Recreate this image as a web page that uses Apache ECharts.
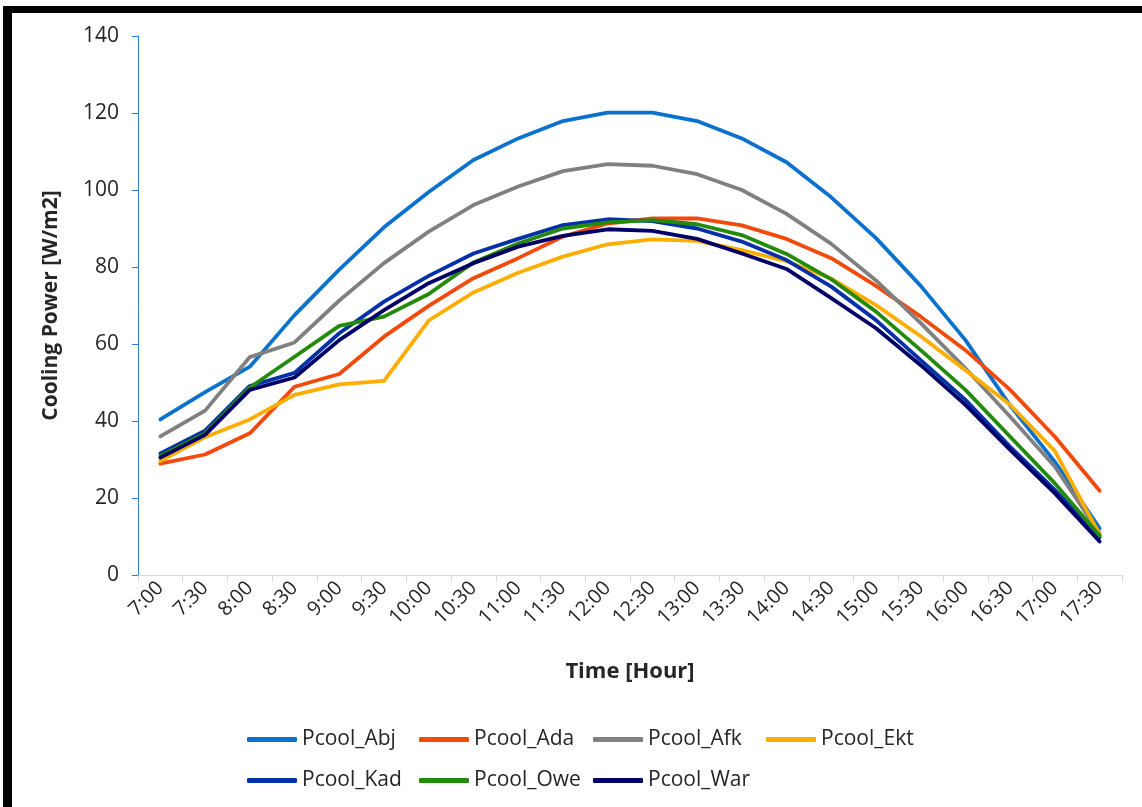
<!DOCTYPE html>
<html>
<head>
<meta charset="utf-8">
<title>Cooling Power</title>
<script src="https://cdn.jsdelivr.net/npm/echarts@6/dist/echarts.min.js"></script>
<style>
  html, body { margin: 0; padding: 0; background: #ffffff; }
  #chart { width: 1142px; height: 807px; }
</style>
</head>
<body>
<div id="chart"></div>
<script>
// Half-hourly time steps
const times = ['7:00', '7:30', '8:00', '8:30', '9:00', '9:30', '10:00', '10:30', '11:00', '11:30',
  '12:00', '12:30', '13:00', '13:30', '14:00', '14:30', '15:00', '15:30', '16:00', '16:30', '17:00', '17:30'];

// Cooling power per site [W/m2]
const pcoolAbj = [40.4, 47.5, 54.1, 67.5, 79.3, 90.3, 99.5, 107.8, 113.4, 117.9, 120.1, 120.1,
  117.9, 113.4, 107.2, 98.1, 87.5, 75.1, 61.0, 44.0, 29.4, 12.1];
const pcoolAda = [28.9, 31.3, 36.8, 48.9, 52.2, 61.9, 69.9, 77.1, 82.3, 87.9, 91.3, 92.6,
  92.6, 90.8, 87.3, 82.3, 75.1, 67.1, 58.4, 48.1, 35.9, 21.9];
const pcoolAfk = [36.0, 42.7, 56.6, 60.4, 71.3, 81.0, 89.2, 96.1, 100.9, 104.9, 106.7, 106.3,
  104.1, 100.0, 93.8, 86.0, 76.5, 65.4, 53.7, 41.1, 28.1, 10.8];
const pcoolEkt = [29.6, 35.8, 40.4, 46.8, 49.5, 50.4, 66.1, 73.4, 78.5, 82.7, 85.9, 87.2,
  86.8, 84.4, 81.5, 77.0, 70.1, 62.0, 53.2, 44.2, 32.2, 10.5];
const pcoolKad = [31.6, 37.5, 49.1, 52.5, 62.8, 71.0, 77.7, 83.5, 87.3, 90.9, 92.4, 91.9,
  90.0, 86.6, 81.8, 74.9, 66.2, 55.8, 45.5, 33.3, 22.1, 9.8];
const pcoolOwe = [30.9, 36.8, 48.7, 56.7, 64.7, 67.1, 73.0, 81.2, 86.1, 90.0, 91.6, 92.2,
  91.1, 88.3, 83.4, 76.8, 68.4, 58.4, 48.1, 35.9, 23.8, 10.2];
const pcoolWar = [30.5, 36.4, 48.1, 51.3, 61.0, 68.8, 75.8, 81.0, 85.3, 88.1, 89.8, 89.4,
  87.3, 83.5, 79.5, 71.9, 64.1, 54.5, 44.2, 32.5, 21.2, 8.7];

const yTicks = { min: 0, max: 140, step: 20 };

const seriesDefs = [
  { name: 'Pcool_Abj', data: pcoolAbj, color: '#0A72CC' },
  { name: 'Pcool_Ada', data: pcoolAda, color: '#F24A0A' },
  { name: 'Pcool_Afk', data: pcoolAfk, color: '#808080' },
  { name: 'Pcool_Ekt', data: pcoolEkt, color: '#FFAE00' },
  { name: 'Pcool_Kad', data: pcoolKad, color: '#0530A8' },
  { name: 'Pcool_Owe', data: pcoolOwe, color: '#238A0B' },
  { name: 'Pcool_War', data: pcoolWar, color: '#000066' }
];

const FONT = '"Open Sans", "Noto Sans", sans-serif';
const TEXT = '#262626';

// Legend laid out on a fixed grid: four columns, two rows
const legendCols = [242, 414, 588, 761];
const legendRows = [724, 765];

const legends = seriesDefs.map((s, i) => ({
  left: legendCols[i % 4],
  top: legendRows[Math.floor(i / 4)],
  orient: 'horizontal',
  icon: 'roundRect',
  itemWidth: 50,
  itemHeight: 5,
  selectedMode: false,
  data: [s.name],
  textStyle: { fontFamily: FONT, fontSize: 21, color: TEXT }
}));

const chart = echarts.init(document.getElementById('chart'), null, { renderer: 'canvas' });

chart.setOption({
  backgroundColor: '#ffffff',
  animation: false,
  textStyle: { fontFamily: FONT },
  grid: { left: 138, right: 20, top: 36, bottom: 232, containLabel: false },
  legend: legends,
  xAxis: {
    type: 'category',
    data: times,
    boundaryGap: true,
    name: 'Time [Hour]',
    nameLocation: 'middle',
    nameGap: 86,
    nameTextStyle: { fontFamily: FONT, fontSize: 22, fontWeight: 'bold', color: TEXT },
    axisLine: { show: true, lineStyle: { color: '#D9D9D9', width: 1 } },
    axisTick: { show: true, alignWithLabel: false, interval: 0, length: 7, lineStyle: { color: '#D9D9D9' } },
    axisLabel: { interval: 0, rotate: 45, margin: 10, fontFamily: FONT, fontSize: 20, color: TEXT },
    splitLine: { show: false }
  },
  yAxis: {
    type: 'value',
    min: yTicks.min,
    max: yTicks.max,
    interval: yTicks.step,
    name: 'Cooling Power [W/m2]',
    nameLocation: 'middle',
    nameGap: 76,
    nameRotate: 90,
    nameTextStyle: { fontFamily: FONT, fontSize: 21, fontWeight: 'bold', color: TEXT },
    axisLine: { show: true, lineStyle: { color: '#2C7FD8', width: 1 } },
    axisTick: { show: true, inside: false, length: 6, lineStyle: { color: '#2C7FD8' } },
    axisLabel: { margin: 19, fontFamily: FONT, fontSize: 21, color: TEXT },
    splitLine: { show: false }
  },
  graphic: [
    // chart frame: left and top edges
    { type: 'rect', left: 3, top: 6, shape: { width: 9, height: 801 }, style: { fill: '#000000' }, silent: true },
    { type: 'rect', left: 3, top: 6, shape: { width: 1139, height: 7 }, style: { fill: '#000000' }, silent: true }
  ],
  series: seriesDefs.map(s => ({
    name: s.name,
    type: 'line',
    data: s.data,
    symbol: 'none',
    smooth: false,
    color: s.color,
    lineStyle: { color: s.color, width: 3.8, cap: 'round', join: 'round' },
    emphasis: { disabled: true }
  }))
});
</script>
</body>
</html>
